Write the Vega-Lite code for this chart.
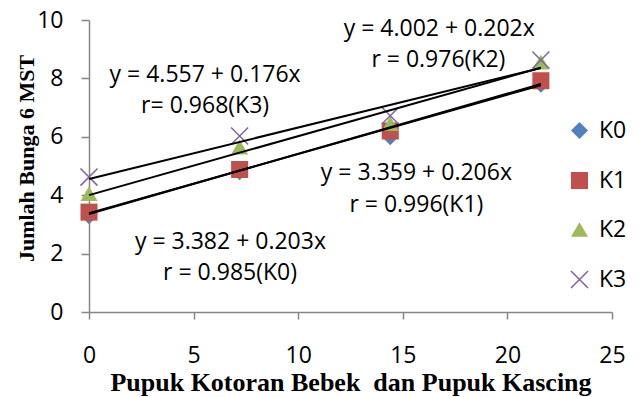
{
  "$schema": "https://vega.github.io/schema/vega-lite/v6.json",
  "autosize": {"type": "none"},
  "width": 523,
  "height": 292,
  "padding": {"left": 89, "top": 20, "right": 27, "bottom": 85},
  "background": "white",
  "config": {
    "view": {"stroke": null},
    "font": "Open Sans"
  },
  "datasets": {
    "points": [
      {"series": "K0", "x": 0, "y": 3.3},
      {"series": "K0", "x": 7.2, "y": 4.8},
      {"series": "K0", "x": 14.4, "y": 6.0},
      {"series": "K0", "x": 21.6, "y": 7.8},
      {"series": "K1", "x": 0, "y": 3.42},
      {"series": "K1", "x": 7.2, "y": 4.88},
      {"series": "K1", "x": 14.4, "y": 6.2},
      {"series": "K1", "x": 21.6, "y": 7.92},
      {"series": "K2", "x": 0, "y": 4.05},
      {"series": "K2", "x": 7.2, "y": 5.65},
      {"series": "K2", "x": 14.4, "y": 6.45},
      {"series": "K2", "x": 21.6, "y": 8.56},
      {"series": "K3", "x": 0, "y": 4.62},
      {"series": "K3", "x": 7.2, "y": 6.03},
      {"series": "K3", "x": 14.4, "y": 6.72},
      {"series": "K3", "x": 21.6, "y": 8.63}
    ],
    "trend": [
      {"series": "K0", "x": 0, "y": 3.382},
      {"series": "K0", "x": 21.6, "y": 7.767},
      {"series": "K1", "x": 0, "y": 3.359},
      {"series": "K1", "x": 21.6, "y": 7.809},
      {"series": "K2", "x": 0, "y": 4.002},
      {"series": "K2", "x": 21.6, "y": 8.365},
      {"series": "K3", "x": 0, "y": 4.557},
      {"series": "K3", "x": 21.6, "y": 8.359}
    ],
    "notes": [
      {"label": "y = 4.557 + 0.176x", "x": 5.55, "y": 8.13},
      {"label": "r= 0.968(K3)", "x": 5.55, "y": 7.07},
      {"label": "y = 4.002 + 0.202x", "x": 16.74, "y": 9.69},
      {"label": "r = 0.976(K2)", "x": 16.7, "y": 8.63},
      {"label": "y = 3.359 + 0.206x", "x": 15.65, "y": 4.76},
      {"label": "r = 0.996(K1)", "x": 15.65, "y": 3.68},
      {"label": "y = 3.382 + 0.203x", "x": 6.76, "y": 2.4},
      {"label": "r = 0.985(K0)", "x": 6.74, "y": 1.34}
    ]
  },
  "layer": [
    {
      "data": {"name": "points"},
      "mark": {"type": "point", "filled": false, "opacity": 1, "strokeWidth": 1.5, "size": 290},
      "encoding": {
        "x": {
          "field": "x", "type": "quantitative",
          "scale": {"domain": [0, 25], "nice": false, "zero": false},
          "axis": {
            "values": [0, 5, 10, 15, 20, 25],
            "grid": false,
            "title": "Pupuk Kotoran Bebek\u00a0 dan Pupuk Kascing",
            "titleFont": "Liberation Serif",
            "titleFontWeight": "bold",
            "titleFontSize": 26,
            "titleColor": "black",
            "titleBaseline": "alphabetic",
            "titleY": 78,
            "labelFont": "Open Sans",
            "labelFontSize": 23,
            "labelColor": "black",
            "labelPadding": 25,
            "labelFlush": false,
            "labelOverlap": false,
            "tickSize": 7,
            "tickColor": "#868686",
            "tickWidth": 1.5,
            "domainColor": "#868686",
            "domainWidth": 1.5
          }
        },
        "y": {
          "field": "y", "type": "quantitative",
          "scale": {"domain": [0, 10], "nice": false, "zero": false},
          "axis": {
            "values": [0, 2, 4, 6, 8, 10],
            "grid": false,
            "title": "Jumlah Bunga 6 MST",
            "titleFont": "Liberation Serif",
            "titleFontWeight": "bold",
            "titleFontSize": 22,
            "titleColor": "black",
            "titleAngle": -90,
            "titleAlign": "center",
            "titleBaseline": "middle",
            "titleX": -63,
            "titleY": 138,
            "labelFont": "Open Sans",
            "labelFontSize": 23,
            "labelColor": "black",
            "labelPadding": 18,
            "labelFlush": false,
            "labelOverlap": false,
            "tickSize": 8,
            "tickColor": "#868686",
            "tickWidth": 1.5,
            "domainColor": "#868686",
            "domainWidth": 1.5
          }
        },
        "shape": {
          "field": "series", "type": "nominal",
          "scale": {"domain": ["K0", "K1", "K2", "K3"], "range": ["diamond", "square", "triangle-up", "M-1,-1L1,1M1,-1L-1,1"]},
          "legend": {
            "orient": "none", "legendX": 479, "legendY": 99, "title": null,
            "labelFont": "Open Sans", "labelFontSize": 23, "labelColor": "black",
            "labelOffset": 8, "rowPadding": 25, "symbolSize": 290, "symbolStrokeWidth": 1.5, "padding": 0
          }
        },
        "fill": {
          "field": "series", "type": "nominal",
          "scale": {"domain": ["K0", "K1", "K2", "K3"], "range": ["#4F81BD", "#C0504D", "#9BBB59", "transparent"]},
          "legend": {
            "orient": "none", "legendX": 479, "legendY": 99, "title": null,
            "labelFont": "Open Sans", "labelFontSize": 23, "labelColor": "black",
            "labelOffset": 8, "rowPadding": 25, "symbolSize": 290, "symbolStrokeWidth": 1.5, "padding": 0
          }
        },
        "stroke": {
          "field": "series", "type": "nominal",
          "scale": {"domain": ["K0", "K1", "K2", "K3"], "range": ["transparent", "transparent", "transparent", "#8064A2"]},
          "legend": {
            "orient": "none", "legendX": 479, "legendY": 99, "title": null,
            "labelFont": "Open Sans", "labelFontSize": 23, "labelColor": "black",
            "labelOffset": 8, "rowPadding": 25, "symbolSize": 290, "symbolStrokeWidth": 1.5, "padding": 0
          }
        }
      }
    },
    {
      "data": {"name": "trend"},
      "mark": {"type": "line", "color": "black", "strokeWidth": 2},
      "encoding": {
        "x": {"field": "x", "type": "quantitative"},
        "y": {"field": "y", "type": "quantitative"},
        "detail": {"field": "series", "type": "nominal"}
      }
    },
    {
      "data": {"name": "notes"},
      "mark": {"type": "text", "font": "Open Sans", "fontSize": 23, "color": "black", "align": "center", "baseline": "middle"},
      "encoding": {
        "x": {"field": "x", "type": "quantitative"},
        "y": {"field": "y", "type": "quantitative"},
        "text": {"field": "label", "type": "nominal"}
      }
    }
  ]
}
